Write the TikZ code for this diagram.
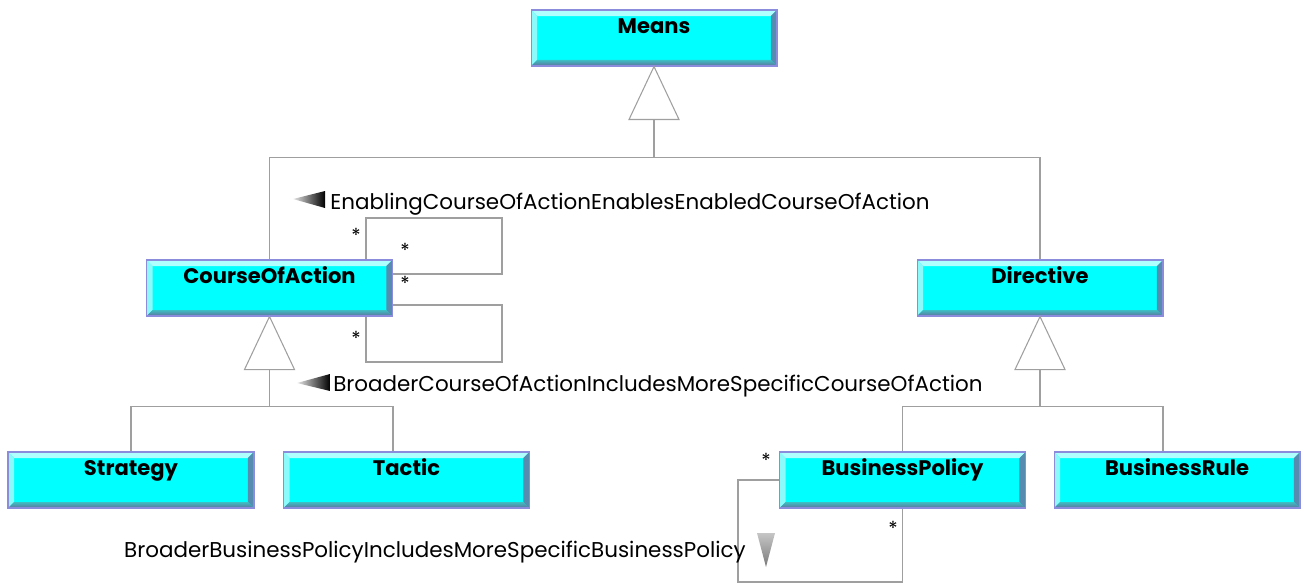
\documentclass[tikz,border=0pt]{standalone}
\usepackage{fontspec}
\setmainfont{Poppins}
\usetikzlibrary{calc}

\definecolor{boxcyan}{RGB}{0,255,255}
\definecolor{boxedge}{RGB}{140,140,220}
\definecolor{bvtop}{RGB}{175,255,255}
\definecolor{bvleft}{RGB}{140,250,250}
\definecolor{bvright}{RGB}{85,140,175}
\definecolor{bvlow}{RGB}{60,190,195}
\definecolor{bvdark}{RGB}{95,115,155}
\def\bv{0.12cm}

\begin{document}
\begin{tikzpicture}[x=0.02cm,y=-0.02cm,
  cls/.style={draw=boxedge,fill=boxcyan,line width=0.6pt,minimum width=4.92cm,minimum height=1.12cm,
    inner sep=0,text height=0.46cm,text depth=0.66cm,font=\bfseries\fontsize{12}{12}\selectfont,
    path picture={
      \path (path picture bounding box.north west) coordinate (nw)
            (path picture bounding box.south east) coordinate (se);
      \fill[bvtop] (nw) -- (nw -| se) -- ($(nw -| se)+(-\bv,-\bv)$) -- ($(nw)+(\bv,-\bv)$) -- cycle;
      \fill[bvleft] (nw) -- (nw |- se) -- ($(nw |- se)+(\bv,\bv)$) -- ($(nw)+(\bv,-\bv)$) -- cycle;
      \fill[bvright] (se) -- (se |- nw) -- ($(se |- nw)+(-\bv,-\bv)$) -- ($(se)+(-\bv,\bv)$) -- cycle;
      \shade[top color=bvlow,bottom color=bvdark] (se) -- (se -| nw) -- ($(se -| nw)+(\bv,\bv)$) -- ($(se)+(-\bv,\bv)$) -- cycle;
    }},
  line/.style={draw=gray!75,line width=0.6pt},
  gen/.style={line,fill=white},
  mult/.style={font=\fontsize{11}{11}\selectfont,inner sep=0},
  role/.style={font=\fontsize{12.2}{12.2}\selectfont,inner sep=0}]
\useasboundingbox (0,0) rectangle (1304,585);

% classes
\node[cls] (means) at (654,38) {Means};
\node[cls] (coa) at (269.5,288) {CourseOfAction};
\node[cls] (dir) at (1040,288) {Directive};
\node[cls] (str) at (131,480) {Strategy};
\node[cls] (tac) at (406.5,480) {Tactic};
\node[cls] (bp) at (902.5,480) {BusinessPolicy};
\node[cls] (br) at (1177,480) {BusinessRule};

% generalizations
\draw[gen] (means.south) -- ++(-25,53) coordinate (mt) -- ++(50,0) -- cycle;
\draw[line] ($(mt)+(25,0)$) -- ++(0,38) coordinate (mj) -| (coa.north);
\draw[line] (mj) -| (dir.north);

\draw[gen] (coa.south) -- ++(-25,53) coordinate (ct) -- ++(50,0) -- cycle;
\draw[line] ($(ct)+(25,0)$) -- ++(0,37) coordinate (cj) -| (str.north);
\draw[line] (cj) -| ([xshift=-0.27cm]tac.north);

\draw[gen] (dir.south) -- ++(-25,53) coordinate (dt) -- ++(50,0) -- cycle;
\draw[line] ($(dt)+(25,0)$) -- ++(0,37) coordinate (dj) -| (bp.north);
\draw[line] (dj) -| ([xshift=-0.28cm]br.north);

% self associations
\coordinate (ea) at (366,218);
\coordinate (eb) at (502,274);
\draw[line] (coa.north -| ea) -- (ea) -| (eb) -- (eb -| coa.east);
\coordinate (ba) at (502,305);
\coordinate (bb) at (366,362);
\draw[line] (coa.east |- ba) -- (ba) |- (bb) -- (bb |- coa.south);
\coordinate (pa) at (738,480);
\coordinate (pb) at (738,582);
\draw[line] (bp.west) -- (pa) -- (pb) -| (bp.south);

\node[mult] (m1) at (356,235) {*};
\node[mult] (m2) at (405,250) {*};
\node[mult] (m3) at (405,283) {*};
\node[mult] (m4) at (356,338) {*};
\node[mult] (m5) at (766,460) {*};
\node[mult] (m6) at (893,528) {*};

% association names
\node[role,anchor=base west] (en) at (330,209) {EnablingCourseOfActionEnablesEnabledCourseOfAction};
\shade[left color=gray!20,right color=black] (293,199) -- (325,191) -- (325,208) -- cycle;
\node[role,anchor=base west] (bc) at (333,391) {BroaderCourseOfActionIncludesMoreSpecificCourseOfAction};
\shade[left color=gray!20,right color=black] (297,383) -- (330,374) -- (330,391) -- cycle;
\node[role,anchor=base east] (bpn) at (746,557) {BroaderBusinessPolicyIncludesMoreSpecificBusinessPolicy};
\shade[top color=gray!45,bottom color=gray!95!black] (757,533) -- (775,533) -- (766,567) -- cycle;

\end{tikzpicture}
\end{document}
